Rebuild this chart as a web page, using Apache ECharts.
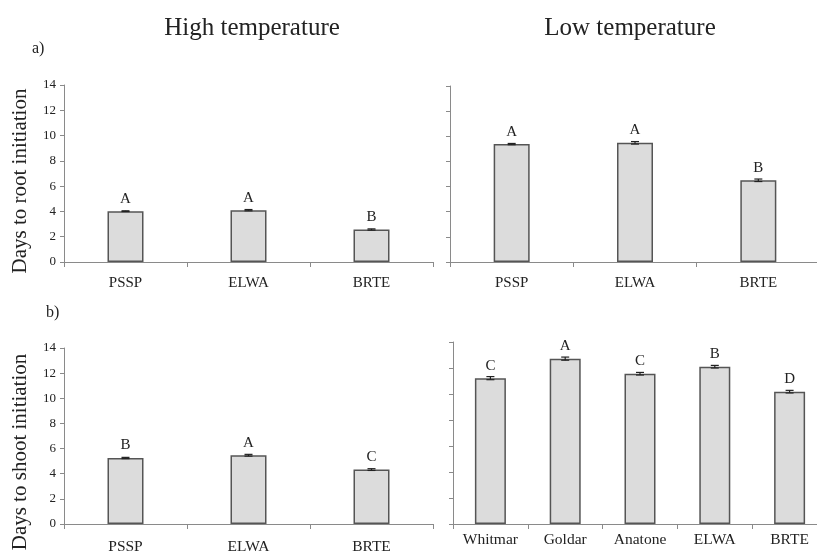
<!DOCTYPE html>
<html>
<head>
<meta charset="utf-8">
<script src="https://cdn.jsdelivr.net/npm/echarts@6/dist/echarts.min.js"></script>
<style>html,body{margin:0;padding:0;background:#fff}#c{width:817px;height:553px}</style>
</head>
<body>
<div id="c"></div>
<script>
// ---- data ----
const highCats = ['PSSP', 'ELWA', 'BRTE'];
const lowShootCats = ['Whitmar', 'Goldar', 'Anatone', 'ELWA', 'BRTE'];

const rootHigh = [4.02, 4.10, 2.57];
const rootHighErr = [0.03, 0.05, 0.05];
const rootHighLetters = ['A', 'A', 'B'];

const rootLow = [9.38, 9.48, 6.50];
const rootLowErr = [0.05, 0.10, 0.10];
const rootLowLetters = ['A', 'A', 'B'];

const shootHigh = [5.25, 5.47, 4.33];
const shootHighErr = [0.05, 0.07, 0.07];
const shootHighLetters = ['B', 'A', 'C'];

const shootLow = [11.22, 12.72, 11.56, 12.10, 10.18];
const shootLowErr = [0.12, 0.12, 0.10, 0.10, 0.10];
const shootLowLetters = ['C', 'A', 'C', 'B', 'D'];

const yMin = 0, yMax = 14, yStep = 2;

// ---- styles ----
const FONT = "'Liberation Serif', 'DejaVu Serif', serif";
const AXIS = '#8a8a8a';
const TXT = '#222';

const chart = echarts.init(document.getElementById('c'), null, {renderer: 'canvas'});

const grids = [
  {left: 64, top: 85, width: 369, height: 177, outerBoundsMode: 'none', containLabel: false},
  {left: 450, top: 86, width: 370, height: 176, outerBoundsMode: 'none', containLabel: false},
  {left: 64, top: 348, width: 369, height: 176, outerBoundsMode: 'none', containLabel: false},
  {left: 453, top: 342, width: 374, height: 182, outerBoundsMode: 'none', containLabel: false}
];

function xAx(idx, cats, margin, fs) {
  return {
    type: 'category', gridIndex: idx, data: cats,
    axisLine: {lineStyle: {color: AXIS, width: 1}},
    axisTick: {show: true, length: 5, lineStyle: {color: AXIS}},
    axisLabel: {color: TXT, fontFamily: FONT, fontSize: fs, margin: margin}
  };
}
function yAx(idx, showLabels) {
  return {
    type: 'value', gridIndex: idx, min: yMin, max: yMax, interval: yStep,
    axisLine: {show: true, lineStyle: {color: AXIS, width: 1}},
    axisTick: {show: true, length: 4, lineStyle: {color: AXIS}},
    splitLine: {show: false},
    axisLabel: {show: showLabels, color: TXT, fontFamily: FONT, fontSize: 13, margin: 8}
  };
}

function barSeries(idx, vals, letters, width) {
  return {
    type: 'bar', xAxisIndex: idx, yAxisIndex: idx, data: vals, barWidth: width,
    itemStyle: {color: '#dcdcdc', borderColor: '#555', borderWidth: 1.5},
    label: {
      show: true, position: 'top', distance: 5, color: TXT, fontFamily: FONT, fontSize: 15,
      formatter: p => letters[p.dataIndex]
    },
    z: 2
  };
}
function errSeries(idx, vals, errs) {
  return {
    type: 'custom', xAxisIndex: idx, yAxisIndex: idx,
    data: vals.map((v, i) => [i, v, errs[i]]),
    renderItem: function (params, api) {
      const x = api.value(0), y = api.value(1), e = api.value(2);
      const t = api.coord([x, y + e]);
      const b = api.coord([x, y - e]);
      const cw = 4;
      const st = {stroke: '#222', lineWidth: 1.2};
      return {
        type: 'group', children: [
          {type: 'line', shape: {x1: t[0], y1: t[1], x2: b[0], y2: b[1]}, style: st},
          {type: 'line', shape: {x1: t[0] - cw, y1: t[1], x2: t[0] + cw, y2: t[1]}, style: st},
          {type: 'line', shape: {x1: b[0] - cw, y1: b[1], x2: b[0] + cw, y2: b[1]}, style: st}
        ]
      };
    },
    z: 3
  };
}

const option = {
  animation: false,
  backgroundColor: '#fff',
  grid: grids,
  xAxis: [
    xAx(0, highCats, 14, 15),
    xAx(1, highCats, 14, 15),
    xAx(2, highCats, 15, 15.5),
    xAx(3, lowShootCats, 8, 15.5)
  ],
  yAxis: [yAx(0, true), yAx(1, false), yAx(2, true), yAx(3, false)],
  series: [
    barSeries(0, rootHigh, rootHighLetters, 36), errSeries(0, rootHigh, rootHighErr),
    barSeries(1, rootLow, rootLowLetters, 36), errSeries(1, rootLow, rootLowErr),
    barSeries(2, shootHigh, shootHighLetters, 36), errSeries(2, shootHigh, shootHighErr),
    barSeries(3, shootLow, shootLowLetters, 31), errSeries(3, shootLow, shootLowErr)
  ],
  graphic: [
    {type: 'text', x: 252, y: 28, style: {text: 'High temperature', font: '25px ' + FONT, fill: TXT, textAlign: 'center', textVerticalAlign: 'middle'}},
    {type: 'text', x: 630, y: 28, style: {text: 'Low temperature', font: '25px ' + FONT, fill: TXT, textAlign: 'center', textVerticalAlign: 'middle'}},
    {type: 'text', x: 32, y: 49, style: {text: 'a)', font: '16px ' + FONT, fill: TXT, textAlign: 'left', textVerticalAlign: 'middle'}},
    {type: 'text', x: 46, y: 313, style: {text: 'b)', font: '16px ' + FONT, fill: TXT, textAlign: 'left', textVerticalAlign: 'middle'}},
    {type: 'text', x: 20, y: 181, rotation: Math.PI / 2, style: {text: 'Days to root initiation', font: '21px ' + FONT, fill: TXT, textAlign: 'center', textVerticalAlign: 'middle'}},
    {type: 'text', x: 20, y: 452, rotation: Math.PI / 2, style: {text: 'Days to shoot initiation', font: '21px ' + FONT, fill: TXT, textAlign: 'center', textVerticalAlign: 'middle'}}
  ]
};
chart.setOption(option);
</script>
</body>
</html>
